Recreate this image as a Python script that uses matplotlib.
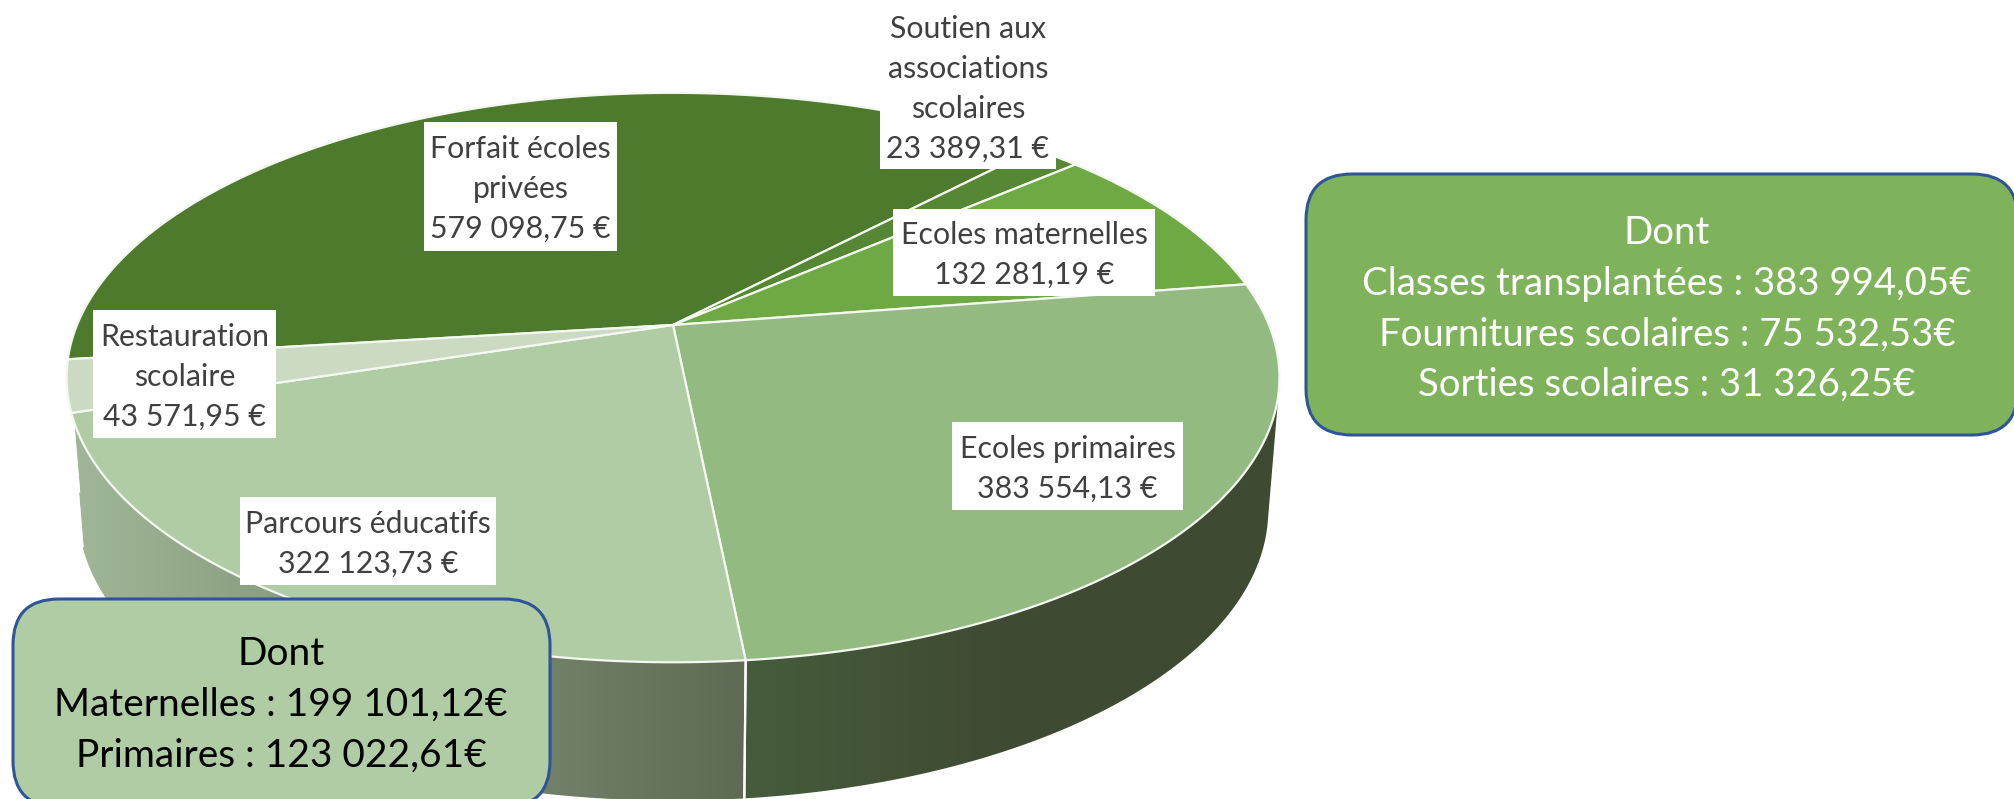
import numpy as np
import matplotlib
matplotlib.use("Agg")
import matplotlib.pyplot as plt
from matplotlib.colors import LinearSegmentedColormap
from matplotlib.patches import FancyBboxPatch, Polygon, Rectangle

plt.rcParams['font.family'] = ['Lato', 'DejaVu Sans']

# Slices, clockwise from the left of the pie
categories = ['Forfait écoles\nprivées', 'Soutien aux\nassociations\nscolaires',
              'Ecoles maternelles', 'Ecoles primaires', 'Parcours éducatifs',
              'Restauration\nscolaire']
values = [579098.75, 23389.31, 132281.19, 383554.13, 322123.73, 43571.95]

dont_right = ['Dont', 'Classes transplantées : 383 994,05€',
              'Fournitures scolaires : 75 532,53€', 'Sorties scolaires : 31 326,25€']
dont_left = ['Dont', 'Maternelles : 199 101,12€', 'Primaires : 123 022,61€']

colors = ['#4e7a2e', '#558735', '#6ea944', '#92ba81', '#b0cca5', '#ccdac4']

# white label boxes: left, right, top, bottom in pixels
label_boxes = [(424, 617, 122, 251), (880, 1056, 4, 169), (893, 1155, 209, 296),
               (952, 1183, 422, 510), (240, 496, 497, 585), (93, 276, 310, 438)]

W, H = 2015, 799
fig = plt.figure(figsize=(W / 100, H / 100), dpi=100)
ax = fig.add_axes([0, 0, 1, 1])

# the pie gives the angles, a hidden axes holds it
pie_ax = fig.add_axes([0, 0, 0.1, 0.1])
wedges, _ = pie_ax.pie(values, startangle=187, counterclock=False)
pie_ax.set_visible(False)


# perspective view of the unit circle
def project(theta, top=True):
    t = np.radians(theta)
    x, y = np.cos(t), np.sin(t)
    d = 1 + 0.1846 * y
    if top:
        return 673 + 596 * x / d, 325 - 275 * y / d
    return 673 + 585 * x / d, 456.5 - 280.5 * y / d


# side wall outline has straight tangents, so take the hull of both arcs
def hull(pts):
    pts = sorted(map(tuple, pts))
    out = []
    for seq in (pts, pts[::-1]):
        part = []
        for p in seq:
            while len(part) > 1 and ((part[-1][0] - part[-2][0]) * (p[1] - part[-2][1])
                                     - (part[-1][1] - part[-2][1]) * (p[0] - part[-2][0])) <= 0:
                part.pop()
            part.append(p)
        out += part[:-1]
    return np.array(out)


def side_gradient(stops, poly):
    x0, x1 = stops[0][0], stops[-1][0]
    cmap = LinearSegmentedColormap.from_list(
        'side', [((s[0] - x0) / (x1 - x0), s[1]) for s in stops])
    im = ax.imshow(np.linspace(0, 1, 256)[None, :], extent=(x0, x1, H, 0),
                   cmap=cmap, aspect='auto', zorder=1)
    im.set_clip_path(poly)


side_stops = {
    4: [(60, '#a2b89a'), (220, '#8fa585'), (560, '#727f68'), (746, '#5d6a54')],
    3: [(744, '#465c3c'), (1000, '#3f4b32'), (1285, '#3e4a31')],
}

# side wall first, then the top
for i, w in enumerate(wedges):
    th = np.linspace(w.theta1, w.theta2, 300)
    tx, ty = project(th)
    bx, by = project(th, top=False)
    pts = np.column_stack([np.r_[tx, bx], np.r_[ty, by]])
    if i in side_stops:
        poly = Polygon(hull(pts), closed=True, fc='none', ec='none', transform=ax.transData)
        ax.add_patch(poly)
        side_gradient(side_stops[i], poly)
    for a in (w.theta1, w.theta2):
        tx0, ty0 = project(a)
        bx0, by0 = project(a, top=False)
        ax.plot([tx0, bx0], [ty0, by0], color='white', lw=1.6, zorder=1.5)

for w, c in zip(wedges, colors):
    th = np.linspace(w.theta1, w.theta2, 300)
    tx, ty = project(th)
    pts = np.column_stack([np.r_[673, tx], np.r_[325, ty]])
    ax.add_patch(Polygon(pts, closed=True, fc=c, ec='#f4f8f0', lw=1.6,
                         joinstyle='round', zorder=2))

# value labels
for name, v, box in zip(categories, values, label_boxes):
    l, r, t, b = box
    ax.add_patch(Rectangle((l, t), r - l, b - t, fc='white', ec='none', zorder=3))
    amount = f'{v:,.2f}'.replace(',', ' ').replace('.', ',') + ' €'
    ax.text((l + r) / 2, (t + b) / 2 + 2.5, name + '\n' + amount, ha='center', va='center',
            fontsize=21.8, color='#404040', linespacing=1.52, zorder=4)

# callouts
ax.add_patch(FancyBboxPatch((1306, 174), 712, 261, boxstyle='round,pad=0,rounding_size=46',
                            fc='#7eb35b', ec='#2f5597', lw=2.2, zorder=5))
ax.text(1667, 309, '\n'.join(dont_right), ha='center', va='center', fontsize=27.6,
        color='white', linespacing=1.5, zorder=6)
ax.add_patch(FancyBboxPatch((13, 599), 537, 208, boxstyle='round,pad=0,rounding_size=46',
                            fc='#b0cca5', ec='#2f5597', lw=2.2, zorder=5))
ax.text(281, 704.5, '\n'.join(dont_left), ha='center', va='center', fontsize=28,
        color='black', linespacing=1.51, zorder=6)

ax.set_xlim(0, W)
ax.set_ylim(H, 0)
ax.axis('off')

fig.savefig('out.png', dpi=100)
